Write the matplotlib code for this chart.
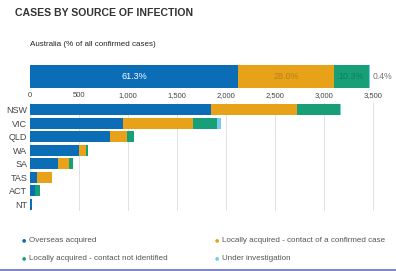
import matplotlib
matplotlib.use("Agg")
import matplotlib.pyplot as plt
import numpy as np

plt.rcParams['font.family'] = ['Liberation Sans', 'DejaVu Sans']

title = "CASES BY SOURCE OF INFECTION"
subtitle = "Australia (% of all confirmed cases)"

series = ["Overseas acquired",
          "Locally acquired - contact of a confirmed case",
          "Locally acquired - contact not identified",
          "Under investigation"]
colors = ["#0c6db7", "#e8a21a", "#17a077", "#7cc8ea"]
label_colors = ["white", "#b8801a", "#0f7f5c", "#777777"]

aus_pct = [61.3, 28.0, 10.3, 0.4]
aus_labels = ["61.3%", "28.0%", "10.3%", "0.4%"]

states = ["NSW", "VIC", "QLD", "WA", "SA", "TAS", "ACT", "NT"]
overseas = [1847, 946, 816, 503, 289, 68, 51, 20]
local_contact = [874, 714, 171, 68, 112, 153, 5, 3]
local_unknown = [442, 245, 74, 24, 34, 3, 46, 1]
under_inv = [8, 41, 2, 0, 0, 0, 0, 0]
state_vals = [overseas, local_contact, local_unknown, under_inv]

xticks = [0, 500, 1000, 1500, 2000, 2500, 3000, 3500]

W, H = 396, 271
fig = plt.figure(figsize=(W / 100, H / 100), dpi=100)

def box(x0, y0, x1, y1):
    return [x0 / W, 1 - y1 / H, (x1 - x0) / W, (y1 - y0) / H]

fig.text(15 / W, 1 - 13 / H, title, fontsize=7.6, fontweight='bold',
         color='#333333', va='center', ha='left')
fig.text(30 / W, 1 - 45 / H, subtitle, fontsize=5.8, color='#222222',
         va='center', ha='left')

# Top percentage bar
ax1 = fig.add_axes(box(30, 65, 370, 88))
left = 0
for i, p in enumerate(aus_pct):
    ax1.barh(0, p, left=left, color=colors[i], height=1.0, edgecolor='none')
    if i < 3:
        ax1.text(left + p / 2, 0, aus_labels[i], ha='center', va='center',
                 fontsize=6.5, color=label_colors[i])
    else:
        ax1.text(100.9, 0, aus_labels[i], ha='left', va='center',
                 fontsize=6.2, color=label_colors[i], clip_on=False)
    left += p
ax1.set_xlim(0, 100)
ax1.set_ylim(-0.5, 0.5)
ax1.axis('off')

# State stacked bars
ax2 = fig.add_axes(box(30, 103, 30 + 3560 * 0.098, 211))
y = np.arange(len(states))
left = np.zeros(len(states))
for i, vals in enumerate(state_vals):
    ax2.barh(y, vals, left=left, color=colors[i], height=0.84, edgecolor='none', zorder=3)
    left += np.array(vals)
ax2.set_ylim(len(states) - 0.5, -0.5)
ax2.set_xlim(0, 3560)
ax2.set_xticks(xticks)
ax2.set_xticklabels([f"{v:,}" for v in xticks])
ax2.xaxis.tick_top()
ax2.tick_params(axis='x', length=0, labelsize=5.5, labelcolor='#444444', pad=3)
ax2.set_yticks(y)
ax2.set_yticklabels(states)
ax2.tick_params(axis='y', length=0, labelsize=6.5, labelcolor='#444444', pad=2)
ax2.grid(axis='x', color='#dddddd', linewidth=0.6, zorder=0)
for s in ax2.spines.values():
    s.set_visible(False)

# Legend
leg_pos = [(22, 240), (215, 240), (22, 258), (215, 258)]
for i, (lx, ly) in enumerate(leg_pos):
    fig.text(lx / W, 1 - ly / H, "\u25CF", fontsize=3.5, color=colors[i],
             va='center', ha='left', family='DejaVu Sans')
    fig.text((lx + 7) / W, 1 - ly / H, series[i], fontsize=5.8, color='#555555',
             va='center', ha='left')

# bottom border line
fig.add_artist(plt.Line2D([0, 1], [1 / H, 1 / H], color='#6a6fc0', linewidth=1.2))

fig.savefig("out.png", dpi=100)
